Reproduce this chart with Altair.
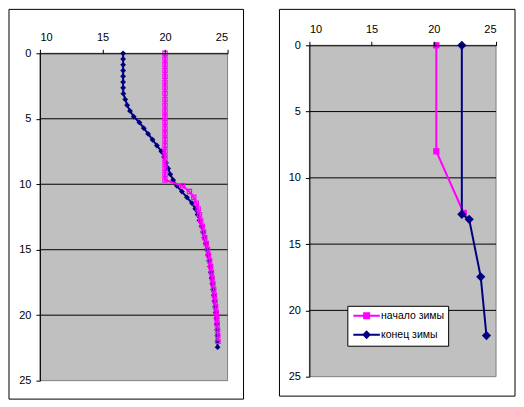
import altair as alt
import pandas as pd

FONT = "Liberation Sans"
MAG = "#FF00FF"
NAVY = "#000080"
S_START = "начало зимы"
S_END = "конец зимы"

# ---- left panel data (depth, temperature) ----
depth_left = [0, 0.44, 0.88, 1.32, 1.76, 2.2, 2.64, 3.08, 3.52, 3.96,
              4.4, 4.84, 5.28, 5.72, 6.16, 6.6, 7.04, 7.48, 7.92, 8.36,
              8.8, 9.24, 9.68, 10.12, 10.56, 11.0, 11.44, 11.88, 12.32, 12.76,
              13.2, 13.64, 14.08, 14.52, 14.96, 15.4, 15.84, 16.28, 16.72, 17.16,
              17.6, 18.04, 18.48, 18.92, 19.36, 19.8, 20.24, 20.68, 21.12, 21.56,
              22.0, 22.44]
end_left = [16.65, 16.65, 16.65, 16.65, 16.65, 16.65, 16.65, 16.67, 16.82, 16.97,
            17.2, 17.5, 17.95, 18.3, 18.65, 19.0, 19.35, 19.7, 19.92, 20.08,
            20.25, 20.42, 20.65, 20.95, 21.35, 21.75, 22.15, 22.42, 22.6, 22.75,
            22.92, 23.03, 23.13, 23.25, 23.35, 23.43, 23.52, 23.6, 23.66, 23.72,
            23.78, 23.84, 23.9, 23.95, 24.0, 24.05, 24.1, 24.13, 24.16, 24.18,
            24.19, 24.2]
start_left = [20.0, 20.0, 20.0, 20.0, 20.0, 20.0, 20.0, 20.0, 20.0, 20.0,
              20.0, 20.0, 20.0, 20.0, 20.0, 20.0, 20.0, 20.0, 20.0, 20.0,
              20.0, 20.0, 20.0, 21.4, 21.95, 22.3, 22.5, 22.65, 22.75, 22.85,
              22.98, 23.08, 23.18, 23.3, 23.4, 23.48, 23.57, 23.65, 23.71, 23.77,
              23.83, 23.89, 23.95, 24.0, 24.05, 24.1, 24.14, 24.17, 24.2, 24.22,
              24.23]

# ---- right panel data ----
depth_right_start = [0, 8.0, 12.65]
start_right = [20.2, 20.2, 22.4]
depth_right_end = [0, 12.75, 13.13, 17.47, 21.9]
end_right = [22.25, 22.25, 22.84, 23.77, 24.23]

x_ticks = [10, 15, 20, 25]
y_ticks = [0, 5, 10, 15, 20, 25]
grid_depths = [5, 10, 15, 20]
x_domain = [10, 25]
y_domain = [0, 25]

left_end_df = pd.DataFrame({"d": depth_left, "t": end_left, "s": S_END})
left_start_df = pd.DataFrame({"d": depth_left[:len(start_left)], "t": start_left, "s": S_START})
right_start_df = pd.DataFrame({"d": depth_right_start, "t": start_right, "s": S_START})
right_end_df = pd.DataFrame({"d": depth_right_end, "t": end_right, "s": S_END})
bg_df = pd.DataFrame({"t": [x_domain[0]], "t2": [x_domain[1]], "d": [y_domain[0]], "d2": [y_domain[1]]})
grid_df = pd.DataFrame({"d": grid_depths})


def build_panel(yrange, height, width, x_offset, frame_box, layers_fn):
    xscale = alt.Scale(domain=x_domain, nice=False, zero=False)
    yscale = alt.Scale(domain=y_domain, range=yrange, nice=False, zero=False)
    xaxis = alt.Axis(orient="top", values=x_ticks, grid=False, title=None, tickSize=4,
                     labelPadding=7, domainColor="black", tickColor="black", offset=x_offset,
                     labelFont=FONT, labelFontSize=11, labelColor="black", zindex=1)
    yaxis = alt.Axis(values=y_ticks, grid=False, title=None, tickSize=4, labelPadding=5,
                     domainColor="black", tickColor="black", zindex=1,
                     labelFont=FONT, labelFontSize=11, labelColor="black")
    X = alt.X("t:Q", scale=xscale, axis=xaxis)
    Y = alt.Y("d:Q", scale=yscale, axis=yaxis)
    bg = alt.Chart(bg_df).mark_rect(fill="#C0C0C0", stroke="#808080", strokeWidth=1).encode(
        x=X, x2="t2:Q", y=Y, y2="d2:Q")
    grid = alt.Chart(grid_df).mark_rule(color="black", strokeWidth=1).encode(
        y=Y, x=alt.value(0), x2=alt.value(width))
    x1, x2, y1, y2 = frame_box
    frame = alt.Chart(alt.Data(values=[{"k": 1}])).mark_rect(
        fill="transparent", stroke="black", strokeWidth=1).encode(
        x=alt.value(x1), x2=alt.value(x2), y=alt.value(y1), y2=alt.value(y2))
    return alt.layer(frame, bg, grid, *layers_fn(X, Y)).properties(width=width, height=height)


def left_layers(X, Y):
    return [
        alt.Chart(left_end_df).mark_line(color=NAVY, strokeWidth=2).encode(x=X, y=Y, order="d:Q"),
        alt.Chart(left_end_df).mark_point(shape="diamond", filled=True, color=NAVY, size=34,
                                          opacity=1).encode(x=X, y=Y),
        alt.Chart(left_start_df).mark_line(color=MAG, strokeWidth=2).encode(x=X, y=Y, order="d:Q"),
        alt.Chart(left_start_df).mark_point(shape="square", filled=False, color=MAG, size=18,
                                            strokeWidth=1.2, opacity=1).encode(x=X, y=Y),
    ]


cscale = alt.Scale(domain=[S_START, S_END], range=[MAG, NAVY])
sym_shape = ("datum.value === '" + S_START + "' ? "
             "'M-2.66,0L2.66,0M-0.5,-0.5L0.5,-0.5L0.5,0.5L-0.5,0.5Z' : "
             "'M-2.66,0L2.66,0M0,-0.6L0.6,0L0,0.6L-0.6,0Z'")
sym_color = "datum.value === '" + S_START + "' ? '" + MAG + "' : '" + NAVY + "'"
leg = alt.Legend(title=None, orient="none", legendX=38, legendY=261,
                 fillColor="white", strokeColor="black", padding=4,
                 symbolSize=100, symbolOffset=9.3, labelOffset=8.5, rowPadding=5,
                 symbolType={"expr": sym_shape},
                 symbolStrokeColor={"expr": sym_color},
                 symbolFillColor={"expr": sym_color},
                 symbolStrokeWidth=2, symbolOpacity=1,
                 labelFont=FONT, labelFontSize=10.5, labelColor="black")


def right_layers(X, Y):
    C = alt.Color("s:N", scale=cscale, legend=leg)
    return [
        alt.Chart(right_start_df).mark_line(color=MAG, strokeWidth=2).encode(x=X, y=Y, order="d:Q"),
        alt.Chart(right_start_df).mark_point(shape="square", filled=True, size=40, opacity=1).encode(
            x=X, y=Y, color=C),
        alt.Chart(right_end_df).mark_line(color=NAVY, strokeWidth=2).encode(x=X, y=Y, order="d:Q"),
        alt.Chart(right_end_df).mark_point(shape="diamond", filled=True, size=85, opacity=1).encode(
            x=X, y=Y, color=C),
    ]


left = build_panel([8, 336], 336, 188, -8, (-31, 204, -36, 354.5), left_layers)
right = build_panel([0, 332], 332, 187, 0, (-30, 206, -36, 351.5), right_layers)

chart = alt.hconcat(left, right, spacing=34).resolve_scale(color="independent").resolve_legend(
    color="independent").properties(padding=0, background="white").configure_view(
    fill="transparent", stroke="transparent", strokeWidth=0)

chart.save("out.html", embed_options={"renderer": "svg", "actions": False})
